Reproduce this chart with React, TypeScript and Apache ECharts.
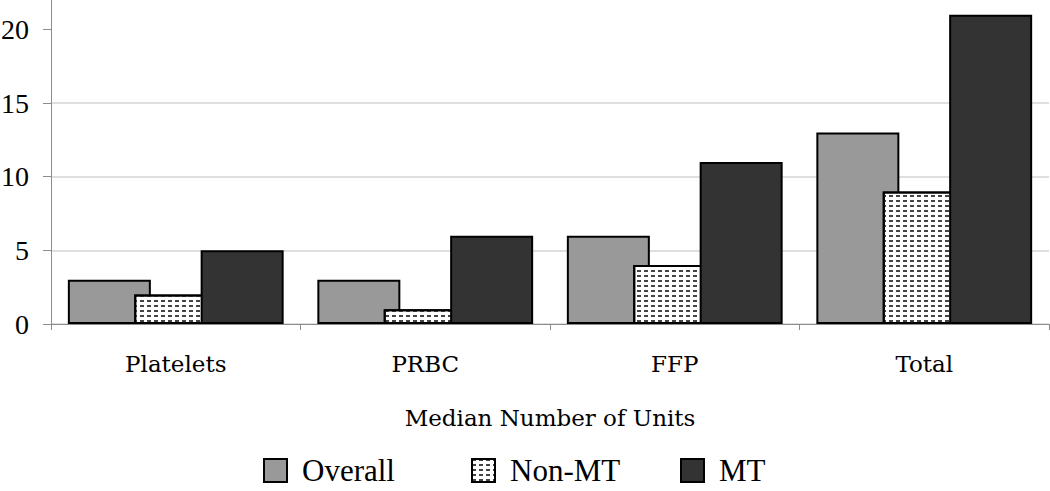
import React, { useEffect, useRef } from "react";
import * as echarts from "echarts";

const categories = ["Platelets", "PRBC", "FFP", "Total"];
const overallValues = [3, 3, 6, 13];
const nonMtValues = [2, 1, 4, 9];
const mtValues = [5, 6, 11, 21];
const yTicks = [0, 5, 10, 15, 20];
const seriesNames = ["Overall", "Non-MT", "MT"];

export default function App() {
  const ref = useRef<HTMLDivElement>(null);
  useEffect(() => {
    if (!ref.current) return;
    const chart = echarts.init(ref.current, null, { renderer: "svg" });
    const border = { borderColor: "#000", borderWidth: 2 };
    const legendText = {
      fontFamily: "'Liberation Serif', 'Times New Roman', serif",
      fontSize: 31,
      lineHeight: 31,
      color: "#000",
      padding: [0, 0, 0, 10],
    };
    const legendBase = {
      top: 450,
      itemWidth: 23,
      itemHeight: 23,
      icon: "rect",
      textStyle: legendText,
      selectedMode: false,
    };
    chart.setOption({
      animation: false,
      backgroundColor: "#fff",
      grid: { left: 51, right: 1, top: 0, bottom: 167, containLabel: false, outerBoundsMode: "none" },
      legend: [
        { ...legendBase, left: 258, data: [seriesNames[0]] },
        { ...legendBase, left: 466, data: [seriesNames[1]] },
        { ...legendBase, left: 675, data: [seriesNames[2]] },
      ],
      xAxis: {
        type: "category",
        data: categories,
        name: "Median Number of Units",
        nameLocation: "middle",
        nameGap: 82,
        nameTextStyle: {
          fontFamily: "'DejaVu Serif', serif",
          fontSize: 23,
          color: "#000",
        },
        axisLine: { show: true, lineStyle: { color: "#8c8c8c", width: 1 } },
        axisTick: { show: true, length: 6, alignWithLabel: false, lineStyle: { color: "#8c8c8c" } },
        axisLabel: {
          margin: 28,
          fontFamily: "'DejaVu Serif', serif",
          fontSize: 23,
          color: "#000",
        },
        splitLine: { show: false },
      },
      yAxis: {
        type: "value",
        min: 0,
        max: 22,
        interval: 5,
        axisLine: { show: true, lineStyle: { color: "#8c8c8c", width: 1 } },
        axisTick: {
          show: true,
          length: 8,
          customValues: yTicks,
          lineStyle: { color: "#8c8c8c" },
        },
        axisLabel: {
          customValues: yTicks,
          margin: 22,
          fontFamily: "'Liberation Serif', 'Times New Roman', serif",
          fontSize: 28,
          color: "#000",
        },
        splitLine: { show: true, showMaxLine: false, lineStyle: { color: "#d4d4d4", width: 1.5 } },
      },
      series: [
        {
          name: seriesNames[0],
          type: "bar",
          data: overallValues,
          barWidth: 83,
          barGap: "-20%",
          itemStyle: { color: "#999999", ...border },
        },
        {
          name: seriesNames[1],
          type: "bar",
          data: nonMtValues,
          barWidth: 83,
          barGap: "-20%",
          itemStyle: {
            color: "#ffffff",
            ...border,
            decal: {
              symbol: "rect",
              symbolSize: 1,
              color: "#444444",
              dashArrayX: [4, 3],
              dashArrayY: [1.5, 2.5],
              rotation: 0,
            },
          },
        },
        {
          name: seriesNames[2],
          type: "bar",
          data: mtValues,
          barWidth: 83,
          barGap: "-20%",
          itemStyle: { color: "#333333", ...border },
        },
      ],
    });
    return () => chart.dispose();
  }, []);
  return (
    <div
      ref={ref}
      style={{ position: "absolute", left: 0, top: 0, width: 1050, height: 491, background: "#fff" }}
    />
  );
}
